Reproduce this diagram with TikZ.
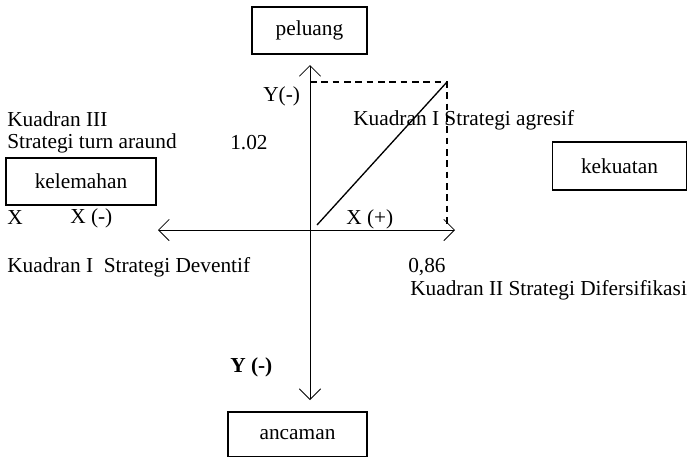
\documentclass[tikz,border=0pt]{standalone}
\usepackage{fontspec}
\setmainfont{Liberation Serif}
\usetikzlibrary{arrows.meta, positioning, calc}
\tikzset{
  kotak/.style={
	draw, line width=1pt, % outline of the boxes
	rectangle,
	minimum height=47*0.75, % box height, px to pt
	inner sep=0pt,
	font=\fontsize{16}{19}\selectfont,
  },
  teks/.style={
	anchor=west, inner sep=0pt, % labels start at their left edge
	font=\fontsize{16}{19}\selectfont,
  },
  sumbu/.style={
	{Straight Barb[length=8pt, width=16pt]}-{Straight Barb[length=8pt, width=16pt]}, % open arrow heads on both ends
	line width=0.6pt,
  },
  putus/.style={
	dashed, line width=1pt, dash pattern=on 5pt off 3.5pt,
  },
}

\begin{document}
\begin{tikzpicture}[x=0.75pt, y=-0.75pt]
	\useasboundingbox (0,0) rectangle (687,457);

	% boxes
	\node[kotak, minimum width=115*0.75] (peluang) at (309.5,30.5) {peluang};
	\node[kotak, minimum width=150*0.75] (kelemahan) at (81,181.5) {kelemahan};
	\node[kotak, minimum width=134*0.75, minimum height=48*0.75] (kekuatan) at (619.5,166) {kekuatan};
	\node[kotak, minimum width=139*0.75, minimum height=45*0.75] (ancaman) at (297.5,434.5) {ancaman};

	% axes
	\coordinate (o) at (310,230);
	\coordinate (atas) at (310,65);
	\coordinate (bawah) at (310,400);
	\coordinate (kiri) at (158,230);
	\coordinate (kanan) at (455,230);
	\coordinate (puncak) at (447,82);
	\coordinate (awal) at (317,225);

	\draw[sumbu] (atas) -- (bawah);
	\draw[sumbu] (kiri) -- (kanan);

	\draw[putus] (atas |- puncak) -- (puncak) -- (puncak |- 0,226);
	\draw[line width=1pt] (awal) -- (puncak);

	% labels
	\node[teks] (yneg) at (263,96) {Y(-)};
	\node[teks] (k3) at (7,119) {Kuadran III};
	\node[teks] (k3s) at (7,143) {Strategi turn araund};
	\node[teks] (nilaiy) at (230,143) {1.02};
	\node[teks] (k1) at (353,120) {Kuadran I Strategi agresif};
	\node[teks] (x) at (7,218) {X};
	\node[teks] (xneg) at (70,218) {X (-)};
	\node[teks] (xpos) at (346,219) {X (+)};
	\node[teks] (k4) at (7,267) {Kuadran I\ \ Strategi Deventif};
	\node[teks] (nilaix) at (408,267) {0,86};
	\node[teks] (k2) at (410,290) {Kuadran II Strategi Difersifikasi};
	\node[teks, font=\fontsize{16}{19}\selectfont\bfseries] (ybawah) at (230,367) {Y (-)};

\end{tikzpicture}
\end{document}
